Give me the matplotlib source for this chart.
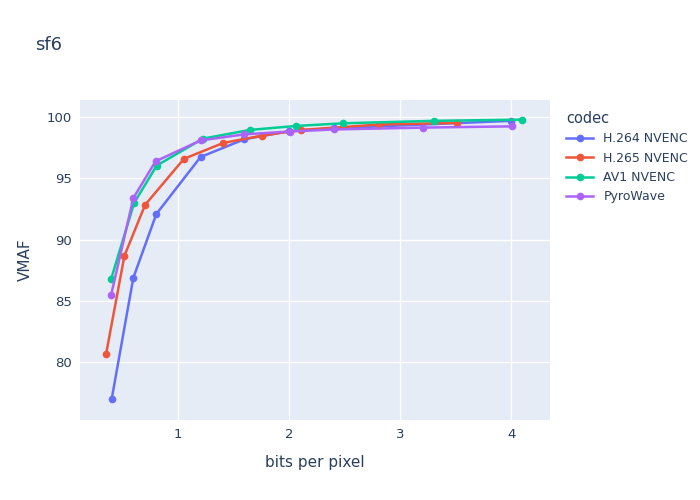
import matplotlib.pyplot as plt

h264_x = [0.405, 0.60, 0.807, 1.205, 1.60, 2.0, 2.41, 4.0]
h264_y = [77.0, 86.9, 92.1, 96.75, 98.2, 98.85, 99.1, 99.7]
h265_x = [0.355, 0.52, 0.706, 1.055, 1.41, 1.76, 2.11, 2.81, 3.51]
h265_y = [80.7, 88.7, 92.85, 96.6, 97.9, 98.5, 98.96, 99.4, 99.53]
av1_x = [0.40, 0.607, 0.81, 1.227, 1.65, 2.06, 2.49, 3.31, 4.10]
av1_y = [86.8, 93.0, 96.05, 98.25, 98.96, 99.28, 99.5, 99.7, 99.8]
pyro_x = [0.40, 0.60, 0.80, 1.205, 1.60, 2.01, 2.41, 3.21, 4.01]
pyro_y = [85.5, 93.4, 96.4, 98.1, 98.6, 98.83, 99.0, 99.15, 99.25]

series = [
    ('H.264 NVENC', h264_x, h264_y, '#636efa'),
    ('H.265 NVENC', h265_x, h265_y, '#EF553B'),
    ('AV1 NVENC', av1_x, av1_y, '#00cc96'),
    ('PyroWave', pyro_x, pyro_y, '#ab63fa'),
]

fig = plt.figure(figsize=(7, 5), dpi=100)
ax = fig.add_axes([80/700, 80/500, 470/700, 320/500])
ax.set_facecolor('#e5ecf6')
for name, x, y, c in series:
    ax.plot(x, y, '-o', color=c, lw=1.8, ms=4.5, label=name)

ax.set_xlim(0.12, 4.35)
ax.set_ylim(75.3, 101.4)
ax.set_xticks([1, 2, 3, 4])
ax.set_yticks([80, 85, 90, 95, 100])
ax.grid(color='white', lw=1)
ax.set_axisbelow(True)
for s in ax.spines.values():
    s.set_visible(False)
ax.tick_params(length=0, labelsize=9.5, colors='#2a3f5f', pad=6)
ax.set_xlabel('bits per pixel', color='#2a3f5f', fontsize=11, labelpad=10)
ax.set_ylabel('VMAF', color='#2a3f5f', fontsize=11, labelpad=10)
fig.text(35/700, 1 - 45/500, 'sf6', fontsize=13, color='#2a3f5f', va='center')
leg = ax.legend(title='codec', loc='upper left', bbox_to_anchor=(1.01, 1.0),
                frameon=False, fontsize=9, title_fontsize=10.5, labelcolor='#2a3f5f',
                handlelength=2.2, alignment='left')
leg.get_title().set_color('#2a3f5f')
fig.savefig('out.png')
